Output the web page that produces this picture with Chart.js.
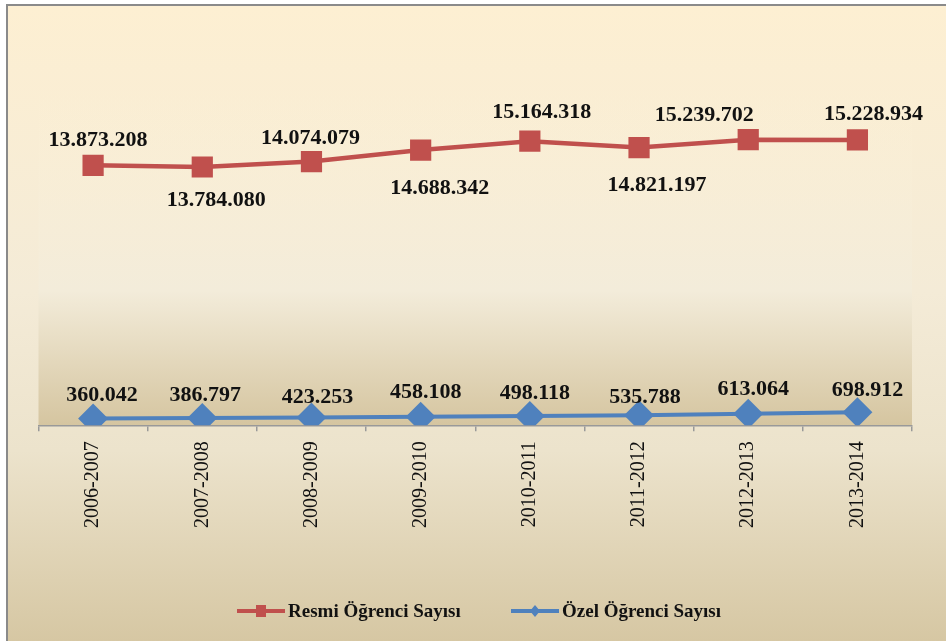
<!DOCTYPE html>
<html>
<head>
<meta charset="utf-8">
<script src="https://cdn.jsdelivr.net/npm/chart.js@4/dist/chart.umd.min.js"></script>
<style>
  html, body { margin: 0; padding: 0; background: #fff; }
  #wrap { position: relative; width: 946px; height: 641px; }
</style>
</head>
<body>
<div id="wrap"><canvas id="grafico" width="946" height="641"></canvas></div>
<script>
// dati
var anni = ['2006-2007', '2007-2008', '2008-2009', '2009-2010', '2010-2011', '2011-2012', '2012-2013', '2013-2014'];
var resmi = [13873208, 13784080, 14074079, 14688342, 15164318, 14821197, 15239702, 15228934];
var ozel = [360042, 386797, 423253, 458108, 498118, 535788, 613064, 698912];
var nomeResmi = 'Resmi Öğrenci Sayısı';
var nomeOzel = 'Özel Öğrenci Sayısı';

// spostamenti delle etichette (come nel grafico originale)
var offResmi = [[5, -25], [14, 33], [-1, -23], [19, 38], [12, -29], [18, 38], [-44, -24], [16, -26]];
var offOzel = [[9, -23], [3, -23], [6, -20], [5, -24], [5, -23], [6, -18], [5, -25], [10, -22]];

var rosso = '#C0504D';
var blu = '#4F81BD';

function formatta(n) {
    return String(n).replace(/\B(?=(\d{3})+(?!\d))/g, '.');
}

var sfondo = {
    id: 'sfondo',
    beforeDraw: function(chart) {
        var ctx = chart.ctx;
        var area = chart.chartArea;
        ctx.save();
        ctx.fillStyle = '#ffffff';
        ctx.fillRect(0, 0, chart.width, chart.height);
        var g = ctx.createLinearGradient(0, 6, 0, chart.height);
        g.addColorStop(0, '#FDEFD2');
        g.addColorStop(0.45, '#F4EBD7');
        g.addColorStop(0.7, '#ECE3CC');
        g.addColorStop(1, '#D6C7A3');
        ctx.fillStyle = g;
        ctx.fillRect(8, 6, chart.width, chart.height);
        // area del grafico
        var g2 = ctx.createLinearGradient(0, area.top, 0, area.bottom);
        g2.addColorStop(0, 'rgba(253,241,214,0)');
        g2.addColorStop(0.6, 'rgba(243,236,218,1)');
        g2.addColorStop(1, '#D5C5A0');
        ctx.fillStyle = g2;
        ctx.fillRect(area.left, area.top, area.right - area.left, area.bottom - area.top);
        ctx.strokeStyle = '#8a8a8a';
        ctx.lineWidth = 2;
        ctx.strokeRect(7, 5, chart.width + 10, chart.height + 10);
        ctx.restore();
    },
    afterDatasetsDraw: function(chart) {
        var ctx = chart.ctx;
        ctx.save();
        ctx.font = 'bold 22px "Liberation Serif"';
        ctx.fillStyle = '#111';
        ctx.textAlign = 'center';
        ctx.textBaseline = 'middle';
        var liste = [offResmi, offOzel];
        chart.data.datasets.forEach(function(ds, d) {
            var meta = chart.getDatasetMeta(d);
            meta.data.forEach(function(pt, i) {
                var o = liste[d][i];
                ctx.fillText(formatta(ds.data[i]), pt.x + o[0], pt.y + o[1]);
            });
        });
        ctx.restore();
    },
    afterDraw: function(chart) {
        // legenda
        var ctx = chart.ctx;
        var y = 611;
        var voci = [
            { x: 237, colore: rosso, forma: 'quadrato', testo: nomeResmi },
            { x: 511, colore: blu, forma: 'rombo', testo: nomeOzel }
        ];
        ctx.save();
        voci.forEach(function(v) {
            ctx.strokeStyle = v.colore;
            ctx.fillStyle = v.colore;
            ctx.lineWidth = 4;
            ctx.beginPath();
            ctx.moveTo(v.x, y);
            ctx.lineTo(v.x + 48, y);
            ctx.stroke();
            var cx = v.x + 24;
            if (v.forma === 'quadrato') {
                ctx.fillRect(cx - 5, y - 6, 10, 12);
            } else {
                ctx.beginPath();
                ctx.moveTo(cx, y - 6);
                ctx.lineTo(cx + 5, y);
                ctx.lineTo(cx, y + 6);
                ctx.lineTo(cx - 5, y);
                ctx.closePath();
                ctx.fill();
            }
            ctx.fillStyle = '#111';
            ctx.font = 'bold 19px "Liberation Serif"';
            ctx.textAlign = 'left';
            ctx.textBaseline = 'middle';
            ctx.fillText(v.testo, v.x + 51, y + 1);
        });
        ctx.restore();
    }
};

var ctx = document.getElementById('grafico');
var chart = new Chart(ctx, {
    type: 'line',
    data: {
        labels: anni,
        datasets: [{
            label: nomeResmi,
            data: resmi,
            borderColor: rosso,
            backgroundColor: rosso,
            borderWidth: 4.5,
            pointStyle: 'rect',
            pointRadius: 15,
            pointBorderWidth: 0,
            tension: 0
        }, {
            label: nomeOzel,
            data: ozel,
            borderColor: blu,
            backgroundColor: blu,
            borderWidth: 4,
            pointStyle: 'rectRot',
            pointRadius: 15,
            pointBorderWidth: 0,
            tension: 0
        }]
    },
    options: {
        responsive: false,
        animation: false,
        layout: { padding: { top: 88, left: 38.5, right: 34, bottom: 103 } },
        plugins: {
            legend: { display: false },
            tooltip: { enabled: false }
        },
        scales: {
            x: {
                offset: true,
                grid: { display: true, offset: true, drawOnChartArea: false, drawTicks: true, tickLength: 6, color: '#999', lineWidth: 1.5 },
                border: { display: true, color: '#999', width: 1.5 },
                ticks: {
                    color: '#111',
                    font: { family: 'Liberation Serif', size: 20 },
                    minRotation: 90,
                    maxRotation: 90,
                    padding: 10,
                    autoSkip: false
                }
            },
            y: {
                display: false,
                min: 0,
                max: 18000000
            }
        }
    },
    plugins: [sfondo]
});
</script>
</body>
</html>
